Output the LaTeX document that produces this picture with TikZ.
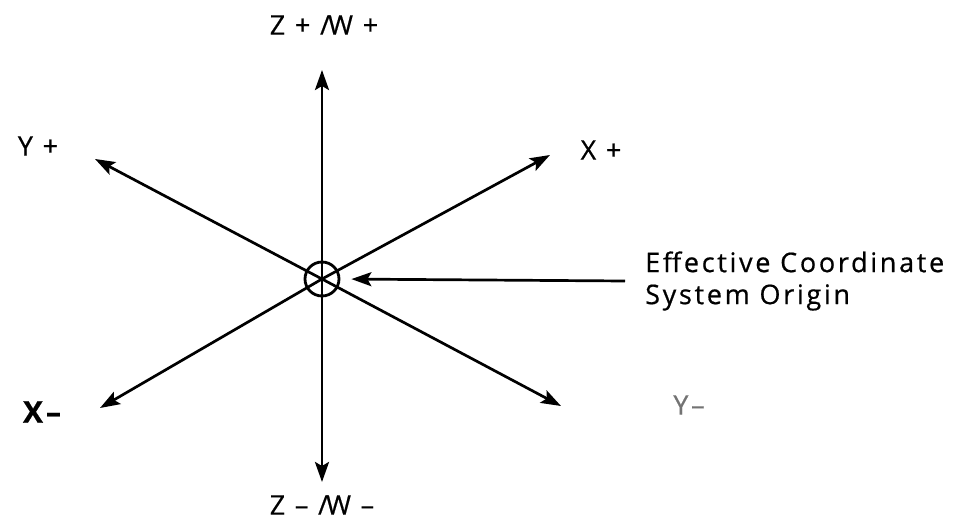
\documentclass[tikz,border=0pt]{standalone}
\usepackage{fontspec}
\setmainfont[LetterSpace=10, FakeBold=0.6]{Open Sans}
\usetikzlibrary{arrows.meta}

\tikzset{
    achse/.style={-{Stealth[length=20pt, width=14pt, inset=4pt]}, line width=2.7pt},
    marke/.style={font=\fontsize{27}{32}\selectfont, inner sep=0pt}
}

\begin{document}
\begin{tikzpicture}[x=1pt, y=-1pt]
        \useasboundingbox (0,0) rectangle (970,521);
        \path node[circle, draw, line width=2.8pt, minimum size=34pt, inner sep=0pt] (O) at (322,279) {}
        coordinate (Zp) at (322,70)
        coordinate (Zm) at (322,482)
        coordinate (Yp) at (95,159)
        coordinate (Xp) at (550,155)
        coordinate (Xm) at (100,408)
        coordinate (Ym) at (561,406);
        \path node[marke] (ZpL) at (324,25) {Z + /\kern-2pt W +}
        node[marke] (ZmL) at (322,505) {Z – /\kern-2pt W –}
        node[marke] (YpL) at (38,146) {Y +}
        node[marke] (XpL) at (601,150) {X +}
        node[marke, font=\fontsize{30}{32}\selectfont\bfseries] (XmL) at (42,412) {X–}
        node[marke, text=black!55] (YmL) at (689,405) {Y–}
        node[marke, anchor=west, align=left, inner xsep=20pt] (eff) at (625,281) {Effective Coordinate\\System Origin};
        % axes from the origin
        \foreach \z in {Zp,Zm,Yp,Xp,Xm,Ym}
            \draw[achse] (O.center) -- (\z);
        \draw[achse, shorten >=11pt] (eff.west) -- (O.east);
    \end{tikzpicture}
\end{document}
